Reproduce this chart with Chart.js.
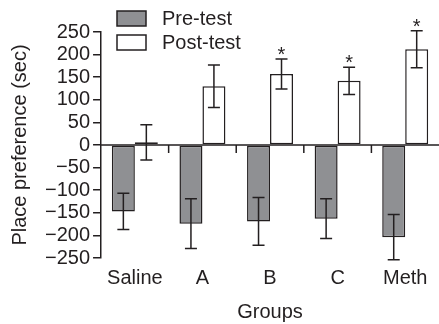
<!DOCTYPE html>
<html>
<head>
<meta charset="utf-8">
<script src="https://cdn.jsdelivr.net/npm/chart.js@4/dist/chart.umd.min.js"></script>
<style>
  html, body { margin: 0; padding: 0; background: #fff; }
  #wrap { width: 439px; height: 324px; }
</style>
</head>
<body>
<div id="wrap"><canvas id="c"></canvas></div>
<script>
// datos
const groups = ['Saline', 'A', 'B', 'C', 'Meth'];
const preTest = [-147, -174, -169, -163, -204];
const preErr = [40, 55, 53, 44, 50];
const postTest = [6, 130, 157, 142, 212];
const postErr = [39, 47, 33, 30, 41];
const postStars = ['', '', '*', '*', '*'];

const ink = '#231f20';
const fontFam = '"Liberation Sans", Arial, sans-serif';

// barras de error, asteriscos y linea del cero
const extras = {
  id: 'extras',
  afterDatasetsDraw(chart) {
    const ctx = chart.ctx;
    const y = chart.scales.y;
    const x = chart.scales.x;
    const area = chart.chartArea;
    ctx.save();
    ctx.strokeStyle = ink;
    ctx.lineWidth = 1.5;

    // linea en cero y marcas entre grupos
    const y0 = y.getPixelForValue(0);
    ctx.beginPath();
    ctx.moveTo(area.left, y0);
    ctx.lineTo(area.right, y0);
    for (let i = 0; i < groups.length - 1; i++) {
      const xm = (x.getPixelForValue(i) + x.getPixelForValue(i + 1)) / 2;
      ctx.moveTo(xm, y0);
      ctx.lineTo(xm, y0 + 8);
    }
    ctx.stroke();

    const errs = [preErr, postErr];
    chart.data.datasets.forEach((ds, di) => {
      const meta = chart.getDatasetMeta(di);
      meta.data.forEach((bar, i) => {
        const v = ds.data[i];
        const e = errs[di][i];
        const top = y.getPixelForValue(v + e);
        const bot = y.getPixelForValue(v - e);
        ctx.beginPath();
        ctx.moveTo(bar.x, top);
        ctx.lineTo(bar.x, bot);
        ctx.moveTo(bar.x - 6, top);
        ctx.lineTo(bar.x + 6, top);
        ctx.moveTo(bar.x - 6, bot);
        ctx.lineTo(bar.x + 6, bot);
        ctx.stroke();
        if (di === 1 && postStars[i]) {
          ctx.fillStyle = ink;
          ctx.font = '20px ' + fontFam;
          ctx.textAlign = 'center';
          ctx.textBaseline = 'alphabetic';
          ctx.fillText(postStars[i], bar.x, top + 2);
        }
      });
    });

    // leyenda
    ctx.font = '20px ' + fontFam;
    ctx.textAlign = 'left';
    ctx.textBaseline = 'middle';
    chart.data.datasets.forEach((ds, di) => {
      const ly = 11 + di * 24;
      ctx.fillStyle = ds.backgroundColor;
      ctx.fillRect(117, ly, 29, 15);
      ctx.strokeRect(117, ly, 29, 15);
      ctx.fillStyle = ink;
      ctx.fillText(ds.label, 162, ly + 8);
    });
    ctx.restore();
  }
};

new Chart(document.getElementById('c'), {
  type: 'bar',
  data: {
    labels: groups,
    datasets: [
      { label: 'Pre-test', data: preTest, backgroundColor: '#8f9093', borderColor: ink, borderWidth: 1.5, borderSkipped: false },
      { label: 'Post-test', data: postTest, backgroundColor: '#ffffff', borderColor: ink, borderWidth: 1.5, borderSkipped: false }
    ]
  },
  options: {
    responsive: true,
    maintainAspectRatio: false,
    animation: false,
    categoryPercentage: 0.68,
    barPercentage: 1,
    layout: { padding: { top: 32, right: 0, left: 8, bottom: 0 } },
    plugins: {
      legend: { display: false },
      tooltip: { enabled: false }
    },
    scales: {
      x: {
        grid: { display: false },
        border: { display: false },
        ticks: { color: ink, font: { size: 20, family: fontFam }, padding: 0, autoSkip: false, maxRotation: 0 },
        title: { display: true, text: 'Groups', color: ink, font: { size: 20, family: fontFam }, padding: { top: 10, bottom: 0 } }
      },
      y: {
        min: -250,
        max: 250,
        ticks: {
          stepSize: 50,
          autoSkip: false,
          color: ink,
          font: { size: 20, family: fontFam },
          padding: 3,
          callback: v => v < 0 ? '\u2212' + Math.abs(v) : v
        },
        grid: { drawOnChartArea: false, tickLength: 8, color: ink, lineWidth: 1.5 },
        border: { color: ink, width: 1.5 },
        title: { display: true, text: 'Place preference (sec)', color: ink, font: { size: 20, family: fontFam }, padding: { top: 0, bottom: 10 } }
      }
    }
  },
  plugins: [extras]
});
</script>
</body>
</html>
